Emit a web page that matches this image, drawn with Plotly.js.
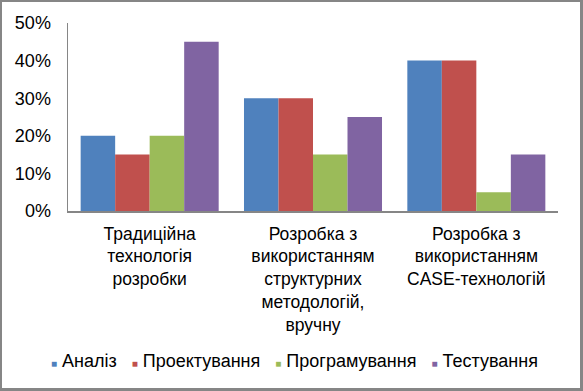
<!DOCTYPE html>
<html>
<head>
<meta charset="utf-8">
<script src="https://cdn.plot.ly/plotly-3.0.1.min.js"></script>
<style>
  html, body { margin: 0; padding: 0; background: #fff; }
  #frame { width: 583px; height: 391px; box-sizing: border-box; border: 2px solid #868686; border-right-width: 3px; border-bottom-width: 3px; }
  #chart { width: 578px; height: 386px; }
</style>
</head>
<body>
<div id="frame"><div id="chart"></div></div>
<script>
const categories = [
  'Традиційна<br>технологія<br>розробки',
  'Розробка з<br>використанням<br>структурних<br>методологій,<br>вручну',
  'Розробка з<br>використанням<br>CASE-технологій'
];
const seriesNames = ['Аналіз', 'Проектування', 'Програмування', 'Тестування'];
const seriesColors = ['#4F81BD', '#C0504D', '#9BBB59', '#8064A2'];
const analiz = [20, 30, 40];
const proektuvannia = [15, 30, 40];
const prohramuvannia = [20, 15, 5];
const testuvannia = [45, 25, 15];
const seriesValues = [analiz, proektuvannia, prohramuvannia, testuvannia];
const yTicks = [0, 10, 20, 30, 40, 50];

const font = 'Liberation Sans, Arial, sans-serif';

const traces = seriesNames.map((name, i) => ({
  type: 'bar',
  name: name,
  x: categories,
  y: seriesValues[i],
  marker: { color: seriesColors[i] },
  hoverinfo: 'none'
}));

const NB = '\u00A0';
const legendText = seriesNames.map((n, i) =>
  '<span style="color:' + seriesColors[i] + ';font-size:10px">■</span>' + NB + n
).join(NB + NB + NB);

const layout = {
  width: 578,
  height: 386,
  margin: { l: 66, r: 22, t: 21, b: 177 },
  paper_bgcolor: '#fff',
  plot_bgcolor: '#fff',
  showlegend: false,
  barmode: 'group',
  bargap: 0.155,
  bargroupgap: 0,
  font: { family: font, size: 18, color: '#000' },
  xaxis: {
    showline: true,
    linecolor: '#868686',
    linewidth: 1.5,
    ticks: '',
    showgrid: false,
    zeroline: false,
    tickfont: { family: font, size: 17.5, color: '#000' },
    ticklabelstandoff: 6,
    fixedrange: true
  },
  yaxis: {
    range: [0, 50],
    tickvals: yTicks,
    ticktext: yTicks.map(v => v + '%'),
    showline: true,
    linecolor: '#868686',
    linewidth: 1.5,
    ticks: '',
    showgrid: false,
    zeroline: false,
    tickfont: { family: font, size: 18, color: '#000' },
    ticklabelstandoff: 12,
    fixedrange: true
  },
  annotations: [{
    xref: 'paper', yref: 'paper',
    x: 0.463, y: -0.80,
    xanchor: 'center', yanchor: 'middle',
    showarrow: false,
    text: legendText,
    font: { family: font, size: 18, color: '#000' }
  }]
};

Plotly.newPlot('chart', traces, layout, { displayModeBar: false, staticPlot: true });
</script>
</body>
</html>
